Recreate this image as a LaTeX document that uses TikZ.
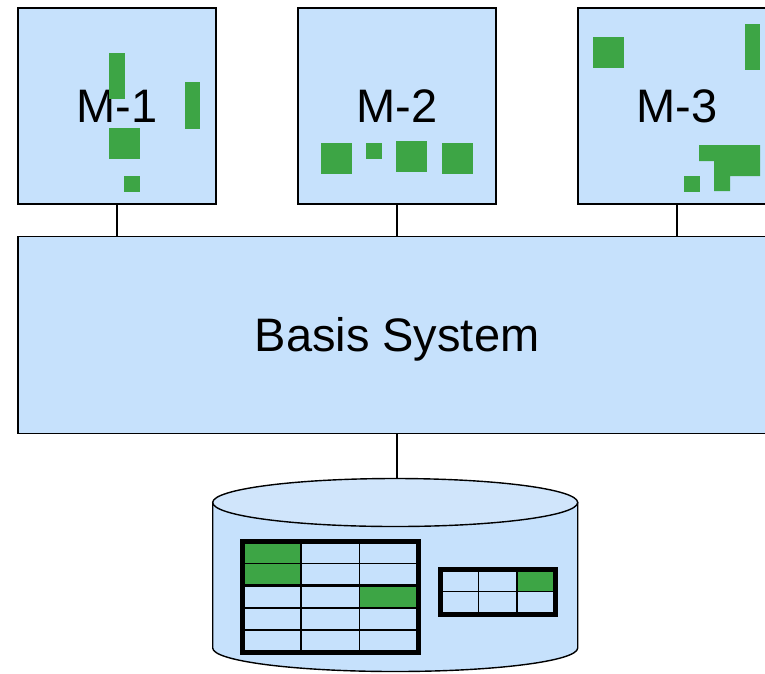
\documentclass[tikz,border=0pt]{standalone}
\usepackage{fontspec}
\setmainfont{Liberation Sans}
\definecolor{boxblue}{HTML}{C6E1FC}
\definecolor{topblue}{HTML}{D0E5FB}
\definecolor{cellgreen}{HTML}{3DA545}
\tikzset{
  modbox/.style={draw=black, line width=1.6pt, fill=boxblue, minimum width=198pt, minimum height=196pt, inner sep=0pt,
    font=\fontsize{47}{56}\selectfont, text height=33.6pt, text depth=0pt},
  basebox/.style={modbox, minimum width=758pt, minimum height=197pt},
  conn/.style={draw=black, line width=1.4pt},
  blk/.style={fill=cellgreen},
  thinline/.style={line width=1.6pt},
  thickline/.style={line width=5pt},
}
\begin{document}
\begin{tikzpicture}[x=1pt,y=-1pt]
\useasboundingbox (0,0) rectangle (765,673);
\clip (0,0) rectangle (765,673);
% modules
\node[modbox] (m1) at (117,106) {M-1};
\node[modbox] (m2) at (397,106) {M-2};
\node[modbox] (m3) at (677,106) {M-3};
\node[basebox] (basis) at (397,335) {Basis System};
% green blocks M-1
\fill[blk] (109,53) rectangle (125,99);
\fill[blk] (185,82) rectangle (200,129);
\fill[blk] (109,128) rectangle (140,159);
\fill[blk] (124,176) rectangle (140,192);
% green blocks M-2
\fill[blk] (321,143) rectangle (352,174);
\fill[blk] (366,143) rectangle (382,159);
\fill[blk] (396,141) rectangle (427,172);
\fill[blk] (442,143) rectangle (473,174);
% green blocks M-3
\fill[blk] (593,37) rectangle (624,68);
\fill[blk] (745,24) rectangle (760,70);
\fill[blk] (699,145) -- (760,145) -- (760,176) -- (730,176) -- (730,191) -- (714,191) -- (714,161) -- (699,161) -- cycle;
\fill[blk] (684,176) rectangle (700,192);
% database cylinder
\coordinate (dbtop) at (397,478.5);
\path[draw=black, line width=1.4pt, fill=boxblue] (212.7,502.5) -- (212.7,648) arc[start angle=180, end angle=0, x radius=182.5, y radius=23.5] -- (577.7,502.5) -- cycle;
\path[draw=black, line width=1.4pt, fill=topblue] (395.2,502.5) ellipse[x radius=182.5, y radius=24];
% big table
\fill[blk] (242.5,541) rectangle (301,563.3);
\fill[blk] (242.5,563.3) rectangle (301,585.6);
\fill[blk] (359.5,585.6) rectangle (418,607.9);
\foreach \yy in {563.3,607.9,630.2} \draw[thinline] (242.5,\yy) -- (418,\yy);
\draw[line width=2.6pt] (242.5,585.6) -- (418,585.6);
\foreach \xx in {301,359.5} \draw[thinline] (\xx,541) -- (\xx,652.5);
\draw[thickline] (242.5,541) rectangle (418,652.5);
% small table
\fill[blk] (517,569) rectangle (555.5,591.5);
\draw[thinline] (440,591.5) -- (555.5,591.5);
\foreach \xx in {478.5,517} \draw[thinline] (\xx,569) -- (\xx,614);
\draw[thickline] (440,569) rectangle (555.5,614);
% connectors
\draw[conn] (m1.south) -- (m1.south |- basis.north);
\draw[conn] (m2.south) -- (m2.south |- basis.north);
\draw[conn] (m3.south) -- (m3.south |- basis.north);
\draw[conn] (basis.south -| dbtop) -- (dbtop);
\end{tikzpicture}
\end{document}
